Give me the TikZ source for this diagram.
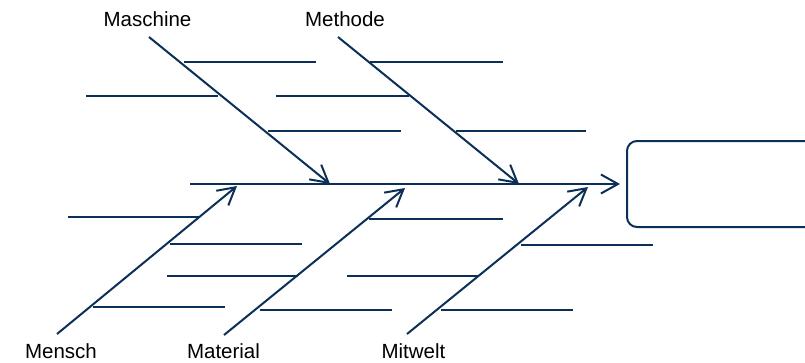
\documentclass[tikz,border=0pt]{standalone}
\usepackage{fontspec}
\setmainfont{Liberation Sans}
\usetikzlibrary{arrows.meta}
\definecolor{fishblue}{HTML}{0B2F56}
\begin{document}
\begin{tikzpicture}[x=1pt,y=-1pt,
  bone/.style={draw=fishblue,line width=2pt,-{Straight Barb[length=17pt,width=19pt]}},
  rib/.style={draw=fishblue,line width=2pt},
  catlabel/.style={anchor=base,inner sep=0pt,font=\fontsize{20.5}{24}\selectfont,text=black},
  effectbox/.style={draw=fishblue,line width=2pt,rounded corners=10pt,rectangle,inner sep=0pt,minimum width=220pt,minimum height=86pt,anchor=west}]
\useasboundingbox (0,0) rectangle (805,362);
\clip (0,0) rectangle (805,362);
% effect box
\node[effectbox] (effect) at (626,184) {};
% labels
\node[catlabel] (lmaschine) at (147.5,26) {Maschine};
\node[catlabel] (lmethode) at (345,26) {Methode};
\node[catlabel] (lmensch) at (61,358) {Mensch};
\node[catlabel] (lmaterial) at (223.5,358) {Material};
\node[catlabel] (lmitwelt) at (413.5,358) {Mitwelt};
% spine
\coordinate (s0) at (190,184);
\draw[bone] (s0) -- ([xshift=-6pt]effect.west);
% bone coordinates
\coordinate (ma0) at (149,37);   \coordinate (ma1) at (330,184);
\coordinate (me0) at (338,37);   \coordinate (me1) at (519,184);
\coordinate (mn0) at (57,334);   \coordinate (mn1) at (237,186);
\coordinate (mt0) at (224,335);  \coordinate (mt1) at (405,188);
\coordinate (mw0) at (407,334);  \coordinate (mw1) at (588,187);
\draw[bone] (ma0) -- (ma1);
\draw[bone] (me0) -- (me1);
\draw[bone] (mn0) -- (mn1);
\draw[bone] (mt0) -- (mt1);
\draw[bone] (mw0) -- (mw1);
% ribs top
\draw[rib] (184,62) -- (316,62);
\draw[rib] (370,62) -- (503,62);
\draw[rib] (86,96) -- (218,96);
\draw[rib] (276,96) -- (409,96);
\draw[rib] (268,131) -- (401,131);
\draw[rib] (456,131) -- (586,131);
% ribs bottom
\draw[rib] (68,217) -- (200,217);
\draw[rib] (369,219) -- (503,219);
\draw[rib] (170,244) -- (302,244);
\draw[rib] (521,245) -- (653,245);
\draw[rib] (167,276) -- (298,276);
\draw[rib] (347,276) -- (478,276);
\draw[rib] (93,307) -- (225,307);
\draw[rib] (260,310) -- (392,310);
\draw[rib] (441,310) -- (573,310);
\end{tikzpicture}
\end{document}
